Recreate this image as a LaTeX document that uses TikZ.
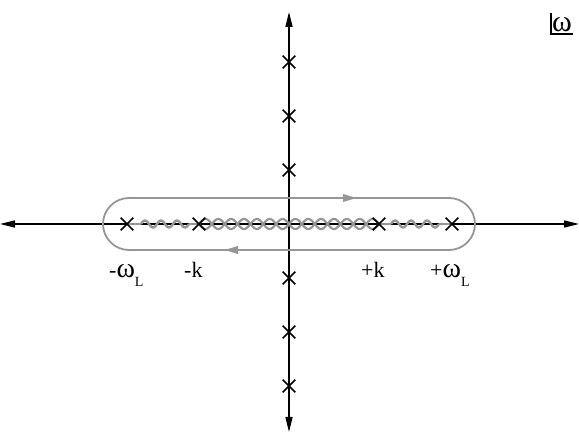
\documentclass[tikz,border=0pt]{standalone}
\usepackage{fontspec}
\setmainfont{Liberation Serif}
\usetikzlibrary{arrows.meta,shapes.misc}
\definecolor{cgray}{RGB}{150,150,150}
\newcommand{\bigomega}{{\fontsize{28}{28}\selectfont ω}}
\newcommand{\subL}{\raisebox{-9pt}{\fontsize{14}{14}\selectfont L}}
\begin{document}
\begin{tikzpicture}[x=1pt,y=-1pt,
  axisline/.style={line width=1.6pt,{Triangle[length=15pt,width=7pt]}-{Triangle[length=15pt,width=7pt]}},
  xmark/.style={cross out,draw=black,line width=1.6pt,minimum size=11pt,inner sep=0pt},
  contourline/.style={draw=cgray,line width=1.8pt,rounded corners=26pt},
  cutwave/.style={cgray,line width=2.4pt},
  lab/.style={anchor=base west,inner sep=0pt,font=\fontsize{22}{22}\selectfont}]
\useasboundingbox (0,0) rectangle (579,435);
% axes
\coordinate (L) at (0,224);
\coordinate (R) at (579,224);
\coordinate (T) at (289,12);
\coordinate (B) at (289,432);
\draw[axisline] (L) -- (R);
\draw[axisline] (B) -- (T);
% contour
\node[contourline,minimum width=372pt,minimum height=52pt,inner sep=0pt] (contour) at (289,224) {};
\coordinate (ta) at (340,198);
\coordinate (tb) at (356,198);
\coordinate (ba) at (241,250);
\coordinate (bb) at (225,250);
\draw[cgray,line width=0.1pt,-{Triangle[length=13pt,width=8pt]}] (ta) -- (tb);
\draw[cgray,line width=0.1pt,-{Triangle[length=13pt,width=8pt]}] (ba) -- (bb);
% cuts
\coordinate (w1) at (127,224);
\coordinate (w2) at (199,224);
\coordinate (w3) at (379,224);
\coordinate (w4) at (452,224);
\draw[cutwave] (w1) -- (141,224);
\draw[cutwave] plot[domain=141:189,samples=80] (\x,{224-3.5*sin((\x-141)/16*360)});
\draw[cutwave] (189,224) -- (w2);
\draw[cutwave] (w3) -- (391,224);
\draw[cutwave] plot[domain=391:439,samples=80] (\x,{224-3.5*sin((\x-391)/16*360)});
\draw[cutwave] (439,224) -- (w4);
\draw[cutwave,line width=2.2pt] plot[domain=199:379,samples=400] (\x,{224+5*sin((\x-199)/180*14*180)});
\draw[cutwave,line width=2.2pt] plot[domain=199:379,samples=400] (\x,{224-5*sin((\x-199)/180*14*180)});
% poles
\node[xmark] (p1) at (w1) {};
\node[xmark] (p2) at (w2) {};
\node[xmark] (p3) at (w3) {};
\node[xmark] (p4) at (w4) {};
\foreach \y [count=\i] in {62,116,170,278,332,386}
  \node[xmark] (q\i) at (289,\y) {};
% labels
\node[lab] (l1) at (109,278) {-\bigomega\subL};
\node[lab] (l2) at (184,278) {-k};
\node[lab] (l3) at (361,278) {+k};
\node[lab] (l4) at (430,278) {+\bigomega\subL};
% plane label
\node[anchor=base west,inner sep=0pt,font=\fontsize{30}{30}\selectfont] (om) at (552,32) {ω};
\coordinate (c1) at (551,13);
\coordinate (c2) at (551,34);
\coordinate (c3) at (573,34);
\draw[line width=1.2pt] (c1) -- (c2) -- (c3);
\end{tikzpicture}
\end{document}
